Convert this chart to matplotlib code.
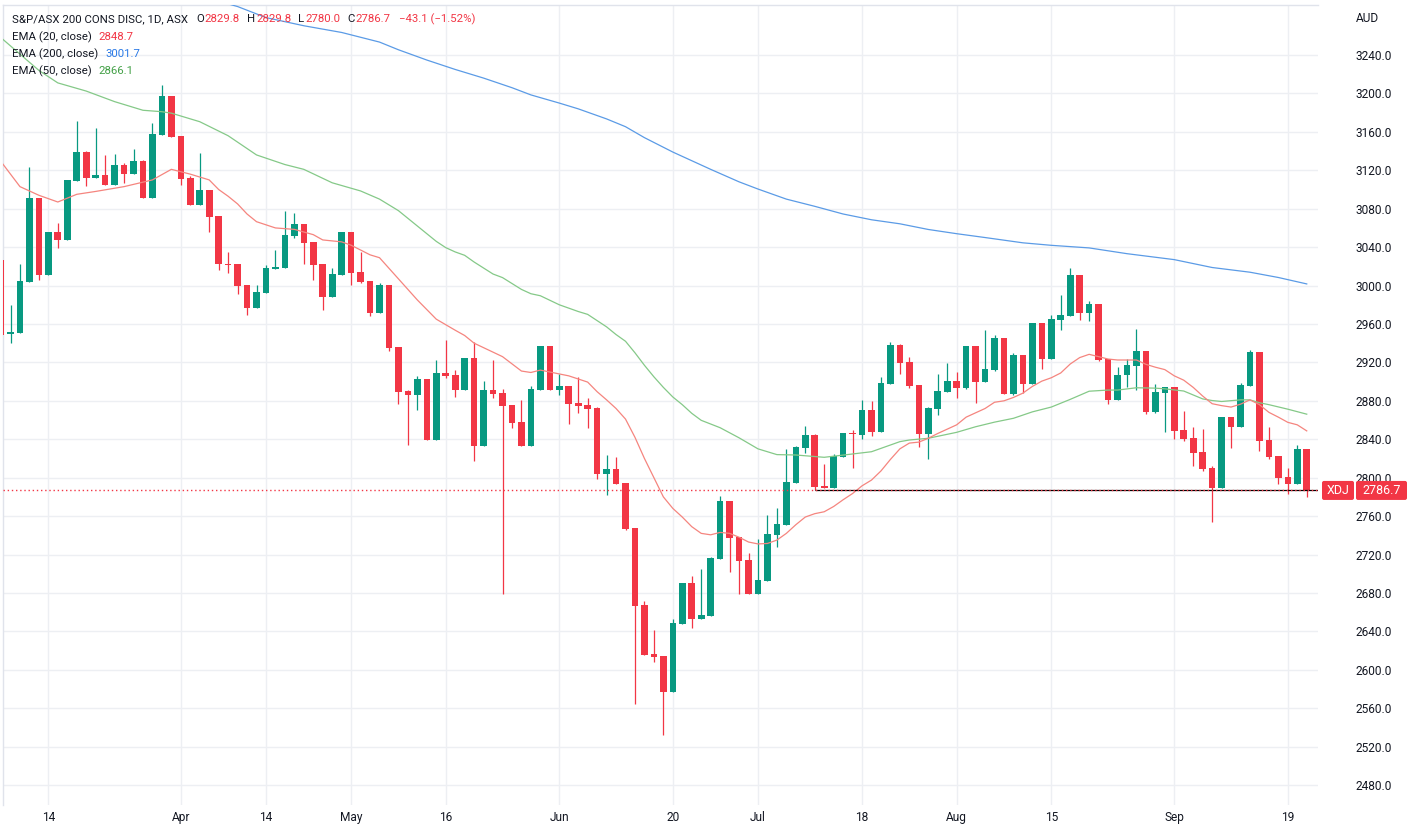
import matplotlib
matplotlib.use("Agg")
import matplotlib.pyplot as plt
import numpy as np
from matplotlib.patches import FancyBboxPatch
from matplotlib.ticker import FormatStrFormatter
from matplotlib.transforms import IdentityTransform

plt.rcParams['font.family'] = ['Roboto', 'DejaVu Sans']

# daily candles, first one is Mar 7 (mostly hidden at the left edge), last Sep 21
opens = [3026.6, 2949.2, 2950.9, 3004.0, 3091.1, 3011.3, 3055.7, 3047.7, 3109.2, 3139.0,
         3112.3, 3115.1, 3105.0, 3125.5, 3116.5, 3129.6, 3091.5, 3157.1, 3197.3, 3155.7,
         3111.9, 3084.2, 3099.5, 3072.4, 3022.4, 3022.4, 3000.5, 2977.0, 2992.6, 3017.2,
         3018.2, 3051.9, 3064.1, 3045.3, 3022.4, 2988.1, 3011.0, 3055.7, 3014.1, 3004.7,
         2971.4, 3000.5, 2936.0, 2890.2, 2886.0, 2902.7, 2839.2, 2908.9, 2906.9, 2891.2,
         2924.6, 2832.9, 2891.2, 2888.1, 2875.6, 2857.9, 2832.9, 2891.2, 2937.0, 2891.2,
         2895.4, 2877.7, 2875.6, 2872.5, 2803.8, 2809.0, 2794.4, 2747.6, 2667.4, 2616.4,
         2614.3, 2576.8, 2647.6, 2690.3, 2652.8, 2655.9, 2715.3, 2775.7, 2738.2, 2714.2,
         2678.8, 2692.4, 2740.3, 2750.7, 2794.4, 2830.9, 2844.4, 2791.3, 2789.2, 2821.5,
         2846.5, 2844.4, 2870.4, 2847.5, 2897.5, 2938.1, 2920.4, 2896.4, 2845.4, 2871.5,
         2889.2, 2900.6, 2893.3, 2937.0, 2899.6, 2912.1, 2945.4, 2887.1, 2927.7, 2897.5,
         2961.0, 2923.5, 2964.1, 2968.3, 3011.0, 2971.4, 2980.8, 2923.5, 2880.8, 2906.5,
         2916.2, 2931.8, 2868.7, 2888.5, 2894.4, 2849.6, 2841.6, 2826.7, 2810.4, 2789.6,
         2863.1, 2853.1, 2895.7, 2930.8, 2839.2, 2822.5, 2801.0, 2793.7, 2829.8]
highs = [3027.0, 2979.7, 3022.4, 3123.4, 3091.5, 3056.0, 3064.8, 3110.2, 3171.3, 3140.1,
         3163.7, 3135.9, 3136.9, 3127.6, 3142.1, 3130.7, 3169.2, 3208.8, 3197.6, 3156.0,
         3114.0, 3138.0, 3099.8, 3072.7, 3034.9, 3022.7, 3000.8, 3000.5, 3021.4, 3037.0,
         3077.6, 3075.5, 3064.4, 3045.6, 3022.7, 3018.2, 3056.0, 3056.0, 3034.9, 3005.0,
         3002.6, 3000.8, 2936.3, 2891.2, 2905.8, 2903.0, 2922.5, 2943.3, 2912.1, 2924.9,
         2941.2, 2900.6, 2922.5, 2892.3, 2875.9, 2880.8, 2895.4, 2937.3, 2937.3, 2907.9,
         2895.7, 2904.8, 2882.9, 2873.5, 2823.6, 2821.5, 2794.7, 2747.9, 2671.6, 2641.4,
         2614.6, 2652.8, 2690.6, 2697.6, 2704.9, 2717.4, 2780.9, 2776.0, 2738.5, 2721.5,
         2736.1, 2761.1, 2768.4, 2829.8, 2832.9, 2853.8, 2845.4, 2814.2, 2824.6, 2846.8,
         2849.6, 2880.8, 2879.8, 2905.0, 2941.0, 2939.1, 2925.6, 2896.7, 2873.5, 2907.9,
         2919.3, 2910.0, 2937.3, 2937.3, 2953.7, 2948.5, 2945.7, 2929.8, 2928.0, 2961.3,
         2961.3, 2969.3, 2990.1, 3018.2, 3011.3, 2983.9, 2981.1, 2923.8, 2915.2, 2923.2,
         2954.7, 2932.1, 2897.5, 2894.7, 2894.7, 2869.7, 2852.4, 2850.6, 2812.5, 2863.4,
         2863.4, 2898.9, 2932.9, 2931.1, 2853.1, 2822.8, 2810.0, 2834.0, 2829.8]
lows = [2948.0, 2940.5, 2950.5, 3003.5, 3005.8, 3011.0, 3039.4, 3047.3, 3108.8, 3104.0,
        3112.0, 3104.7, 3104.7, 3107.1, 3116.2, 3091.2, 3091.2, 3156.8, 3154.7, 3105.0,
        3083.9, 3083.9, 3056.1, 3016.5, 3013.4, 2991.5, 2969.7, 2976.7, 2992.3, 3017.0,
        3018.0, 3049.8, 3022.4, 3005.8, 2974.5, 2987.8, 3010.7, 3000.5, 3002.6, 2968.3,
        2971.1, 2931.8, 2876.7, 2834.0, 2870.4, 2838.9, 2838.9, 2903.7, 2884.0, 2890.9,
        2817.3, 2832.6, 2882.9, 2678.9, 2851.7, 2832.6, 2832.6, 2890.9, 2890.9, 2886.0,
        2855.8, 2867.3, 2851.7, 2798.6, 2781.9, 2793.1, 2745.5, 2564.3, 2615.1, 2608.1,
        2532.1, 2576.5, 2647.3, 2643.5, 2652.5, 2655.6, 2715.0, 2701.8, 2678.8, 2678.5,
        2678.5, 2692.1, 2727.8, 2750.4, 2794.1, 2825.6, 2787.1, 2788.9, 2788.9, 2821.2,
        2810.0, 2840.2, 2843.3, 2847.2, 2897.2, 2907.9, 2893.3, 2831.9, 2819.4, 2865.2,
        2888.9, 2882.9, 2892.3, 2877.7, 2899.3, 2911.0, 2886.8, 2886.0, 2888.1, 2897.2,
        2913.1, 2923.2, 2953.7, 2968.0, 2964.1, 2963.1, 2921.4, 2876.7, 2880.5, 2894.7,
        2891.2, 2866.6, 2867.6, 2847.9, 2840.6, 2838.5, 2812.5, 2807.3, 2754.2, 2789.3,
        2831.2, 2852.8, 2895.4, 2828.1, 2819.8, 2793.7, 2783.3, 2793.4, 2780.0]
closes = [2948.5, 2951.3, 3004.7, 3091.1, 3011.3, 3055.7, 3047.7, 3109.9, 3139.0, 3112.3,
          3115.1, 3105.0, 3125.5, 3116.5, 3129.6, 3091.5, 3157.8, 3197.3, 3155.0, 3111.3,
          3084.2, 3099.5, 3071.7, 3022.1, 3021.7, 2999.9, 2977.0, 2993.3, 3018.2, 3019.3,
          3052.6, 3064.1, 3044.6, 3021.4, 2988.1, 3012.0, 3055.7, 3013.0, 3003.7, 2971.4,
          3000.5, 2935.0, 2889.2, 2886.0, 2902.7, 2839.2, 2908.9, 2905.8, 2891.2, 2924.6,
          2832.9, 2891.2, 2887.1, 2874.6, 2856.9, 2832.9, 2892.3, 2937.0, 2891.2, 2895.4,
          2876.7, 2874.6, 2871.5, 2803.8, 2809.0, 2793.4, 2746.5, 2666.4, 2615.4, 2613.3,
          2576.8, 2648.7, 2690.3, 2652.8, 2657.0, 2716.3, 2775.7, 2737.2, 2713.2, 2678.8,
          2693.4, 2741.3, 2751.7, 2795.5, 2831.9, 2844.4, 2790.2, 2789.2, 2822.5, 2846.5,
          2845.1, 2870.4, 2847.5, 2898.5, 2938.1, 2919.7, 2895.4, 2845.4, 2872.5, 2890.2,
          2900.6, 2893.3, 2937.0, 2899.6, 2913.1, 2945.4, 2887.1, 2927.7, 2897.5, 2961.0,
          2923.5, 2965.2, 2969.3, 3011.0, 2971.4, 2980.8, 2922.5, 2880.8, 2906.8, 2916.9,
          2931.8, 2868.7, 2889.2, 2894.4, 2848.9, 2840.6, 2826.0, 2809.3, 2789.6, 2863.1,
          2853.1, 2896.4, 2930.8, 2838.5, 2821.8, 2800.0, 2793.7, 2829.8, 2786.7]

# date ticks (candle index -> label)
tick_at = [4, 18, 27, 36, 46, 58, 70, 79, 90, 100, 110, 123, 135]
tick_labels = ["14", "Apr", "14", "May", "16", "Jun", "20", "Jul", "18", "Aug", "15", "Sep", "19"]

# moving averages at selected candles
ema20_at = [-1, 1, 3, 5, 7, 9, 12, 15, 17, 19, 21, 22, 23, 24, 25, 26, 28, 30, 32, 33,
            35, 36, 38, 39, 40, 41, 42, 43, 44, 45, 47, 48, 49, 52, 54, 55, 56, 57, 59, 61,
            62, 63, 64, 65, 66, 67, 68, 69, 70, 71, 72, 73, 74, 75, 76, 77, 78, 79, 80, 81,
            82, 83, 84, 85, 86, 87, 88, 89, 90, 91, 92, 93, 94, 95, 96, 97, 98, 100, 101, 102,
            103, 104, 105, 106, 107, 108, 109, 110, 111, 112, 113, 114, 115, 116, 117, 119, 120, 121, 122, 123,
            124, 125, 126, 127, 128, 129, 130, 131, 132, 133, 134, 135, 136, 137]
ema20 = [3129, 3103, 3094, 3087, 3095, 3098, 3103, 3110, 3121, 3116, 3110, 3100, 3093, 3085, 3074.5, 3066.5, 3060, 3058.5, 3053, 3047.5,
         3045.5, 3042, 3032, 3029, 3018, 3007, 2996, 2985, 2975, 2965, 2953.5, 2948, 2940, 2926, 2911, 2909.5, 2912, 2910, 2906, 2899.5,
         2889.5, 2881, 2872, 2861, 2842, 2820, 2800, 2780, 2768, 2759, 2749, 2742, 2740.5, 2743, 2742, 2738, 2733, 2731, 2731.5, 2735,
         2742, 2751, 2759, 2762.5, 2764.5, 2770, 2777, 2783.5, 2791.5, 2797.5, 2807, 2819, 2830, 2836, 2837, 2841, 2846, 2855, 2863, 2867.5,
         2872, 2878.5, 2880, 2883.5, 2888, 2895, 2900.5, 2904, 2909, 2918.3, 2925, 2928.4, 2926, 2923.5, 2922.5, 2922.5, 2918, 2915, 2912.5, 2906,
         2901.5, 2894, 2885, 2877, 2875, 2873.5, 2876.5, 2881, 2876, 2868, 2863, 2857.6, 2855, 2848.7]

ema50_at = [-1, 1, 3, 5, 8, 11, 14, 16, 17, 20, 23, 26, 29, 31, 34, 37, 39, 41, 43, 45,
            46, 47, 48, 49, 51, 52, 54, 55, 56, 58, 60, 61, 62, 63, 64, 65, 66, 67, 68, 69,
            70, 71, 72, 73, 75, 77, 79, 81, 83, 86, 88, 91, 93, 94, 95, 97, 100, 102, 104, 106,
            108, 110, 112, 114, 116, 117, 119, 121, 122, 124, 126, 127, 128, 130, 131, 132, 133, 135, 137]
ema50 = [3258, 3241, 3224, 3211, 3202.5, 3191.5, 3182.5, 3181, 3179.5, 3170.6, 3156, 3136, 3126, 3121, 3107, 3098.5, 3090, 3078, 3062, 3046,
         3039.5, 3035, 3031.5, 3024.5, 3012, 3008.3, 2996, 2991.5, 2989.4, 2980, 2973, 2970, 2963.5, 2957, 2949, 2942, 2930, 2917, 2905, 2894,
         2884, 2876, 2867, 2859.7, 2852, 2841.5, 2830, 2824, 2823.6, 2821.2, 2823.5, 2827, 2834, 2837.5, 2839.2, 2841, 2847.2, 2853, 2857.8, 2861.8,
         2868.5, 2873.5, 2881.5, 2890, 2891.2, 2891.2, 2893.6, 2893.2, 2892.5, 2890.2, 2882, 2880.3, 2879.3, 2881, 2881, 2878, 2876, 2871.3, 2866.1]

ema200_at = [20, 22, 24, 27, 31, 35, 39, 41, 44, 47, 50, 53, 55, 58, 60, 63, 65, 67, 70, 72,
             74, 77, 79, 82, 85, 88, 91, 94, 97, 100, 103, 107, 110, 114, 118, 123, 127, 131, 134, 137]
ema200 = [3302, 3296, 3290.5, 3279, 3270.5, 3263.5, 3253.5, 3245.5, 3234.8, 3225, 3216, 3206, 3198.5, 3190, 3184, 3173.5, 3165.4, 3154, 3139, 3130,
          3121, 3108, 3100.5, 3090, 3082.5, 3074.5, 3068.5, 3064.3, 3058.4, 3054, 3050, 3044.5, 3041.9, 3039.2, 3033.2, 3027, 3018.8, 3013.9, 3008.4, 3001.7]

support_from = 85
support_level = 2787.1

UP, DOWN = "#089981", "#F23645"
TEXT = "#131722"
W, H = 1418, 833

fig = plt.figure(figsize=(W / 100, H / 100), dpi=100)
fig.patch.set_facecolor("white")
ax = fig.add_axes([3 / W, (H - 805) / H, 1315 / W, 800 / H])

o = np.array(opens)
h = np.array(highs)
l = np.array(lows)
c = np.array(closes)
x = np.arange(len(o)) - 1
col = np.where(c >= o, UP, DOWN)

ax.vlines(x, l, h, colors=col, lw=0.9, zorder=2)
ax.bar(x, np.maximum(np.abs(c - o), 0.9), 0.7, bottom=np.minimum(o, c),
       color=col, linewidth=0, zorder=3)

ax.plot(ema200_at, ema200, color="#5B9BE6", lw=0.9, zorder=4)
ax.plot(ema50_at, ema50, color="#85C988", lw=0.9, zorder=4)
ax.plot(ema20_at, ema20, color="#F5857F", lw=0.9, zorder=4)

xmax = 138.19
ax.hlines(support_level, support_from, xmax, colors="black", lw=0.9, zorder=5)
ax.axhline(closes[-1], color=DOWN, lw=1.0, ls=(0, (1, 2)), zorder=6)

ax.set_xlim(-0.793, xmax)
ax.set_ylim(2459.2, 3292.1)

ax.set_xticks(tick_at)
ax.set_xticklabels(tick_labels)
ax.set_yticks(np.arange(2480, 3241, 40))
ax.yaxis.set_major_formatter(FormatStrFormatter("%.1f"))
ax.yaxis.tick_right()
ax.tick_params(axis="y", length=0, pad=27, labelsize=8.6, labelcolor=TEXT)
ax.tick_params(axis="x", length=0, pad=4, labelsize=8.6, labelcolor=TEXT)
ax.grid(True, color="#EDEFF3", lw=1, zorder=0)
ax.set_axisbelow(True)
for side in ["right", "bottom"]:
    ax.spines[side].set_visible(False)
for side in ["left", "top"]:
    ax.spines[side].set_color("#E0E3EB")
    ax.spines[side].set_linewidth(1)

fig.text(1356 / W, 1 - 18 / H, "AUD", fontsize=8.6, color=TEXT, va="center", ha="left")

# last price tags on the price scale
yc = ax.transData.transform((0, closes[-1]))[1]
for x0, wd, label in [(1322, 32, "XDJ"), (1356, 51, f"{closes[-1]:.1f}")]:
    fig.add_artist(FancyBboxPatch((x0, yc - 9.5), wd, 19,
                                  boxstyle="round,pad=0,rounding_size=2",
                                  fc=DOWN, ec="none", transform=IdentityTransform()))
    fig.text(x0 + wd / 2, yc, label, color="white", fontsize=9, ha="center",
             va="center", transform=IdentityTransform())

# legend rows at the top left
renderer = fig.canvas.get_renderer()
fs = 8.2


def row(pieces, y_px):
    xp = 12
    for s, color, gap in pieces:
        t = fig.text(xp / W, 1 - y_px / H, s, color=color, fontsize=fs, ha="left", va="center")
        xp += t.get_window_extent(renderer).width + gap


chg = closes[-1] - closes[-2]
pct = chg / closes[-2] * 100
row([("S&P/ASX 200 CONS DISC, 1D, ASX", TEXT, 8),
     ("O", TEXT, 1), (f"{opens[-1]:.1f}", DOWN, 7),
     ("H", TEXT, 1), (f"{highs[-1]:.1f}", DOWN, 7),
     ("L", TEXT, 1), (f"{lows[-1]:.1f}", DOWN, 7),
     ("C", TEXT, 1), (f"{closes[-1]:.1f}", DOWN, 8),
     (f"\u2212{abs(chg):.1f} (\u2212{abs(pct):.2f}%)", DOWN, 0)], 19)
row([("EMA (20, close)", TEXT, 7), (f"{ema20[-1]:.1f}", "#F23645", 0)], 37)
row([("EMA (200, close)", TEXT, 7), (f"{ema200[-1]:.1f}", "#2979E6", 0)], 54)
row([("EMA (50, close)", TEXT, 7), (f"{ema50[-1]:.1f}", "#43A047", 0)], 71)

fig.savefig("out.png", dpi=100)
